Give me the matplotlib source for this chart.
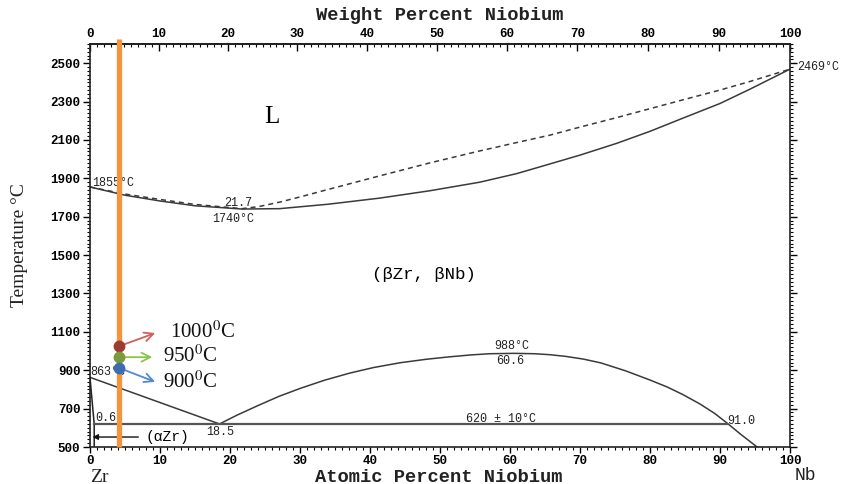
import matplotlib
matplotlib.use("Agg")
import matplotlib.pyplot as plt
from matplotlib.ticker import MultipleLocator
import numpy as np

plt.rcParams['mathtext.fontset'] = 'stix'

# ---------------- data (atomic % Nb, temperature in C) ----------------
liq_x = [0, 5, 10, 15, 21.7, 24, 27.1, 30, 34, 41.4, 48.5, 55.7, 62, 65.7, 70, 75.3, 80, 84.8, 90, 94.3, 100]
liq_t = [1855, 1818, 1790, 1764, 1742, 1752, 1776, 1803, 1842, 1913, 1980, 2043, 2095, 2125, 2167, 2217, 2263, 2310, 2360, 2405, 2469]

sol_x = [0, 5, 10, 15, 21.7, 27.1, 34, 41.4, 48.5, 55.7, 61, 65.7, 70, 75.3, 80, 84.8, 90, 94.3, 100]
sol_t = [1855, 1812, 1782, 1757, 1740, 1742, 1765, 1797, 1835, 1880, 1925, 1975, 2021, 2083, 2145, 2215, 2290, 2365, 2469]

dome_x = [18.5, 21, 24, 27, 30, 33.5, 37.1, 40.5, 44.3, 48, 51.4, 54.5, 57.1, 60.6, 63.5, 65.7, 68, 70.5, 73, 76.5, 80, 82.5, 84.7, 87.1, 89.2, 91.0, 93, 95.3]
dome_t = [620, 666, 716, 764, 805, 848, 885, 914, 939, 957, 970, 980, 986, 988, 986, 981, 972, 958, 938, 897, 849, 812, 773, 725, 676, 625, 565, 500]

beta_x = [0, 18.5]
beta_t = [863, 620]

alpha_x = [0, 0.2, 0.4, 0.6, 0.6]
alpha_t = [863, 780, 700, 620, 500]

mono_x = [0.6, 91.0]
mono_t = [620, 620]

alloy_x = 4.15
dot_t = [1025, 968, 912]
dot_labels = ['1000$^{\\mathrm{0}}$C', '950$^{\\mathrm{0}}$C', '900$^{\\mathrm{0}}$C']
dot_colors = ['#9c3b35', '#7b9a3c', '#3d6db0']
arrow_colors = ['#d0605a', '#8cc44a', '#5089cc']

x_ticks = list(range(0, 101, 10))
y_ticks = list(range(500, 2501, 200))

M_ZR, M_NB = 91.224, 92.906


def at2wt(a):
    a = np.asarray(a, dtype=float)
    return 100 * a * M_NB / (a * M_NB + (100 - a) * M_ZR)


def wt2at(w):
    w = np.asarray(w, dtype=float)
    return 100 * w * M_ZR / (w * M_ZR + (100 - w) * M_NB)


MONO = 'Liberation Mono'
SERIF = 'Liberation Serif'
LC = '#3a3a3a'

fig = plt.figure(figsize=(8.49, 4.84), dpi=100)
ax = fig.add_axes([90 / 849, 37 / 484, 700 / 849, 403 / 484])
ax.set_xlim(0, 100)
ax.set_ylim(500, 2600)

# curves
ax.plot(liq_x, liq_t, color=LC, lw=1.1, dashes=(3.3, 2.6))
ax.plot(sol_x, sol_t, color=LC, lw=1.1)
ax.plot(dome_x, dome_t, color=LC, lw=1.1)
ax.plot(beta_x, beta_t, color=LC, lw=1.1)
ax.plot(alpha_x, alpha_t, color='#222222', lw=1.1)
ax.plot(mono_x, mono_t, color='#555555', lw=1.6)

# axes styling
for s in ax.spines.values():
    s.set_linewidth(1.2)
    s.set_color('#222222')

ax.set_xticks(x_ticks)
ax.set_yticks(y_ticks)
ax.xaxis.set_minor_locator(MultipleLocator(1))
ax.yaxis.set_minor_locator(MultipleLocator(20))
ax.tick_params(axis='x', which='major', direction='out', length=4, width=1.0, pad=1.5)
ax.tick_params(axis='x', which='minor', direction='out', length=2, width=0.8)
ax.tick_params(axis='y', which='major', direction='out', length=5, width=1.0, pad=2, right=True)
ax.tick_params(axis='y', which='minor', direction='out', length=2, width=0.8, right=True)
for lab in ax.get_xticklabels() + ax.get_yticklabels():
    lab.set_fontfamily(MONO)
    lab.set_fontsize(9)
    lab.set_fontweight('bold')

sec = ax.secondary_xaxis('top', functions=(at2wt, wt2at))
sec.set_xticks(x_ticks)
sec.xaxis.set_minor_locator(MultipleLocator(1))
sec.tick_params(which='major', direction='in', length=5, width=1.0, pad=3)
sec.tick_params(which='minor', direction='in', length=2, width=0.8)
sec.spines['top'].set_linewidth(1.2)
for lab in sec.get_xticklabels():
    lab.set_fontfamily(MONO)
    lab.set_fontsize(9)
    lab.set_fontweight('bold')

# annotations on the diagram
tk = dict(fontfamily=MONO, fontsize=8.5, color='#222222', zorder=3)
ax.text(0.3, 1878, '1855°C', ha='left', va='center', **tk)
ax.text(21.1, 1771, '21.7', ha='center', va='center', **tk)
ax.text(20.4, 1688, '1740°C', ha='center', va='center', **tk)
ax.text(0.1, 891, '863°C', ha='left', va='center', **tk)
ax.text(0.7, 651, '0.6', ha='left', va='center', **tk)
ax.text(18.6, 578, '18.5', ha='center', va='center', **tk)
ax.text(58.7, 646, '620 ± 10°C', ha='center', va='center', **tk)
ax.text(91.1, 635, '91.0', ha='left', va='center', **tk)
ax.text(60.3, 1026, '988°C', ha='center', va='center', **tk)
ax.text(60.0, 948, '60.6', ha='center', va='center', **tk)
ax.text(101.0, 2479, '2469°C', ha='left', va='center', clip_on=False, **tk)

ax.text(26.0, 2219, 'L', fontfamily=SERIF, fontsize=18, ha='center', va='center')
ax.text(47.7, 1401, '(βZr, βNb)', fontfamily=MONO, fontsize=12.5, ha='center', va='center')
ax.text(11.0, 552, '(αZr)', fontfamily=MONO, fontsize=10.5, ha='center', va='center')
ax.annotate('', xy=(0.35, 552), xytext=(6.9, 552),
            arrowprops=dict(arrowstyle='-|>', color='#111111', lw=1.0, mutation_scale=8,
                            shrinkA=0, shrinkB=0))

# highlighted alloy composition
ax.plot([alloy_x, alloy_x], [500, 2626], color='#f5943c', lw=3.8, solid_capstyle='butt',
        clip_on=False, zorder=4)
offsets = [(26, 9.5), (24, 0), (26, -10)]
for t, c, ac, off in zip(dot_t, dot_colors, arrow_colors, offsets):
    ax.plot([alloy_x], [t], 'o', ms=7.5, color=c, mec=c, zorder=6)
    ax.annotate('', xy=(alloy_x, t), xytext=off, textcoords='offset points',
                arrowprops=dict(arrowstyle='<-', color=ac, lw=1.3, mutation_scale=16,
                                shrinkA=0, shrinkB=4), zorder=5)
label_pos = [(11.4, 1099), (10.4, 972), (10.4, 839)]
for (lx, lt), s in zip(label_pos, dot_labels):
    ax.text(lx, lt, s, fontfamily=SERIF, fontsize=15, ha='left', va='center', color='#111111')

# outer labels
fig.text(440 / 849, 1 - 16 / 484, 'Weight Percent Niobium', fontfamily=MONO, fontsize=13.5,
         fontweight='bold', ha='center', va='center', color='#222222')
fig.text(439 / 849, 1 - 477 / 484, 'Atomic Percent Niobium', fontfamily=MONO, fontsize=13.5,
         fontweight='bold', ha='center', va='center', color='#222222')
fig.text(20 / 849, 1 - 245 / 484, 'Temperature °C', fontfamily=SERIF, fontsize=14,
         rotation=90, ha='center', va='center', color='#222222')
fig.text(99 / 849, 1 - 477 / 484, 'Zr', fontfamily=SERIF, fontsize=14, ha='center', va='center',
         color='#222222')
fig.text(805 / 849, 1 - 475 / 484, 'Nb', fontfamily=MONO, fontsize=13, ha='center', va='center',
         color='#222222')

fig.savefig('out.png', dpi=100)
